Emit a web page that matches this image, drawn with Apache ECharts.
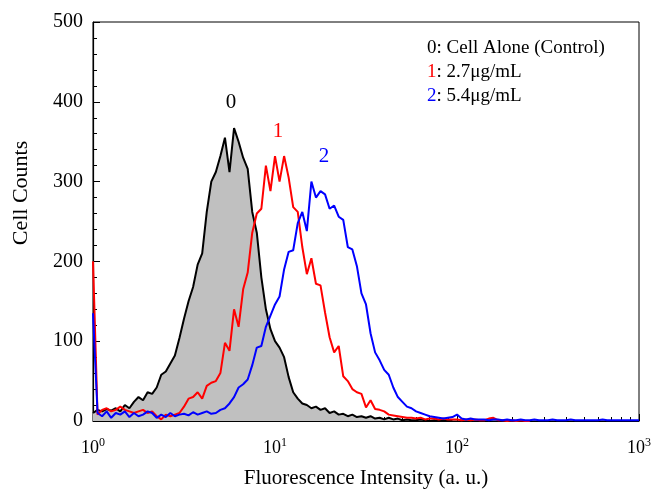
<!DOCTYPE html>
<html>
<head>
<meta charset="utf-8">
<script src="https://cdn.jsdelivr.net/npm/echarts@6/dist/echarts.min.js"></script>
<style>
  html, body { margin: 0; padding: 0; background: #fff; }
  #main { width: 654px; height: 494px; }
</style>
</head>
<body>
<div id="main"></div>
<script>
// channel spacing in log10 units (each bin = 1/40 decade)
var logStep = 0.025;

// cell counts per channel
var control = [
  10, 14, 12, 15, 13, 16, 12, 20, 16, 24,
  30, 26, 36, 34, 42, 58, 62, 72, 82, 104,
  128, 150, 168, 196, 210, 262, 300, 312, 332, 355,
  312, 367, 350, 330, 316, 262, 236, 180, 140, 115,
  100, 92, 80, 55, 36, 28, 22, 20, 16, 18,
  14, 16, 10, 12, 8, 9, 6, 8, 5, 6,
  4, 6, 3, 4, 2, 4, 2, 3, 1, 2,
  1, 1, 2, 1, 0, 1, 0, 1, 0, 0
];
var dose27 = [
  200, 8, 14, 16, 12, 14, 18, 14, 12, 10,
  12, 14, 10, 12, 6, 2, 8, 6, 8, 10,
  18, 28, 30, 36, 28, 44, 48, 50, 60, 98,
  88, 140, 118, 165, 186, 236, 260, 266, 320, 288,
  332, 300, 332, 305, 268, 262, 218, 184, 204, 172,
  170, 136, 105, 86, 94, 56, 50, 40, 36, 34,
  17, 26, 15, 14, 12, 8, 7, 6, 5, 4,
  4, 3, 4, 2, 3, 3, 2, 3, 2, 2,
  2, 1, 2, 1, 2, 1, 1, 3, 4, 1,
  1, 0, 1, 0, 1, 0, 0
];
var dose54 = [
  135, 10, 6, 12, 4, 10, 8, 12, 5, 10,
  6, 8, 12, 10, 4, 8, 5, 10, 6, 8,
  9, 7, 11, 8, 10, 12, 9, 10, 14, 16,
  22, 30, 42, 46, 52, 70, 92, 94, 118, 132,
  146, 156, 190, 212, 214, 248, 262, 238, 300, 280,
  288, 284, 266, 270, 256, 252, 218, 215, 194, 160,
  146, 110, 86, 76, 64, 58, 42, 30, 24, 18,
  16, 12, 10, 8, 6, 5, 4, 3, 4, 5,
  8, 3, 2, 3, 2, 2, 2, 1, 2, 2,
  1, 2, 1, 1, 2, 1, 1, 2, 1, 1,
  1, 2, 1, 1, 1, 2, 1, 1, 1, 1,
  1, 1, 2, 1, 1, 1, 1, 1, 1, 1, 1
];

var decades = [0, 1, 2, 3];
var minorMultipliers = [2, 3, 4, 5, 6, 7, 8, 9];
var legendLines = [
  { key: '0', text: ': Cell Alone (Control)', color: '#000000' },
  { key: '1', text: ': 2.7\u03bcg/mL', color: '#ff0000' },
  { key: '2', text: ': 5.4\u03bcg/mL', color: '#0000ff' }
];

var FONT = 'Liberation Serif';

function toPairs(arr) {
  return arr.map(function (c, i) { return [i * logStep, c]; });
}

var minorTicks = [];
decades.slice(0, 3).forEach(function (d) {
  minorMultipliers.forEach(function (m) { minorTicks.push(d + Math.log10(m)); });
});

var chart = echarts.init(document.getElementById('main'));

var option = {
  backgroundColor: '#fff',
  animation: false,
  grid: {
    left: 93, right: 13, top: 22, bottom: 73,
    show: true, borderColor: '#000', borderWidth: 1
  },
  xAxis: [{
    type: 'value', min: 0, max: 3,
    name: 'Fluorescence Intensity (a. u.)',
    nameLocation: 'middle', nameGap: 47,
    nameTextStyle: { fontFamily: FONT, fontSize: 21, color: '#000' },
    axisLine: { lineStyle: { color: '#000', width: 1.2 } },
    axisTick: { inside: true, length: 7, customValues: decades, lineStyle: { color: '#000' } },
    axisLabel: {
      customValues: decades, margin: 16,
      formatter: function (v) { return '{b|10}{s|' + v + '}'; },
      rich: {
        b: { fontFamily: FONT, fontSize: 18, color: '#000' },
        s: { fontFamily: FONT, fontSize: 12, color: '#000', padding: [0, 0, 10, 0] }
      }
    },
    splitLine: { show: false }
  }, {
    type: 'value', min: 0, max: 3, position: 'bottom',
    axisLine: { show: false },
    axisTick: { inside: true, length: 4, customValues: minorTicks, lineStyle: { color: '#000' } },
    axisLabel: { show: false },
    splitLine: { show: false }
  }],
  yAxis: {
    type: 'value', min: 0, max: 500, interval: 100,
    axisLine: { show: true, lineStyle: { color: '#000', width: 1.2 } },
    axisTick: { show: true, inside: true, length: 7, lineStyle: { color: '#000' } },
    minorTick: { show: true, splitNumber: 5, length: 4, lineStyle: { color: '#000' } },
    axisLabel: { fontFamily: FONT, fontSize: 20, color: '#000', margin: 10 },
    splitLine: { show: false }
  },
  series: [{
    name: '0', type: 'line', data: toPairs(control),
    showSymbol: false, symbol: 'none',
    lineStyle: { color: '#000', width: 2 },
    areaStyle: { color: '#c0c0c0', opacity: 1 },
    z: 2
  }, {
    name: '1', type: 'line', data: toPairs(dose27),
    showSymbol: false, symbol: 'none',
    lineStyle: { color: '#ff0000', width: 2 },
    z: 3
  }, {
    name: '2', type: 'line', data: toPairs(dose54),
    showSymbol: false, symbol: 'none',
    lineStyle: { color: '#0000ff', width: 2 },
    z: 4
  }],
  graphic: [
    { type: 'text', x: 21, y: 193, rotation: Math.PI / 2,
      style: { text: 'Cell Counts', fill: '#000', font: '22px ' + FONT, align: 'center', verticalAlign: 'middle' } },
    { type: 'text', x: 231, y: 102, style: { text: '0', fill: '#000', font: '21px ' + FONT, align: 'center', verticalAlign: 'middle' } },
    { type: 'text', x: 278, y: 131, style: { text: '1', fill: '#ff0000', font: '21px ' + FONT, align: 'center', verticalAlign: 'middle' } },
    { type: 'text', x: 324, y: 156, style: { text: '2', fill: '#0000ff', font: '21px ' + FONT, align: 'center', verticalAlign: 'middle' } }
  ].concat(legendLines.map(function (l, i) {
    return {
      type: 'text', x: 427, y: 48 + i * 24,
      style: {
        text: '{k|' + l.key + '}{t|' + l.text + '}',
        verticalAlign: 'middle',
        rich: {
          k: { fill: l.color, fontFamily: FONT, fontSize: 19 },
          t: { fill: '#000', fontFamily: FONT, fontSize: 19 }
        }
      }
    };
  }))
};

chart.setOption(option);
</script>
</body>
</html>
